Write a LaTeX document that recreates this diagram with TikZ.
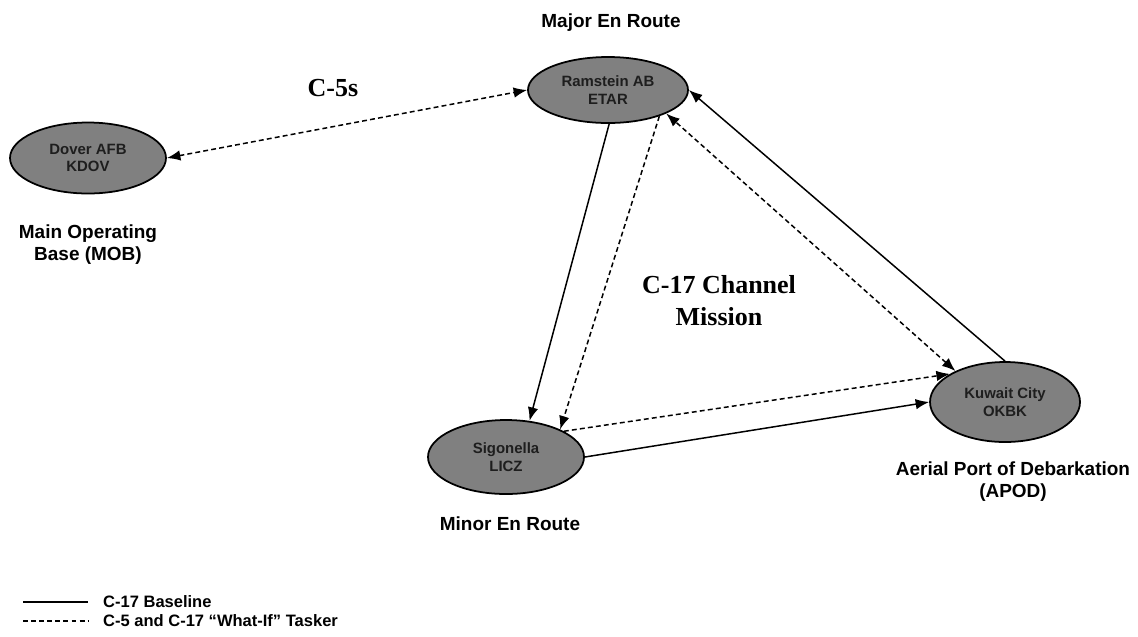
\documentclass[tikz,border=0pt]{standalone}
\usepackage{fontspec}
\setmainfont{Liberation Sans}
\newfontfamily\serifbold{Liberation Serif}
\usetikzlibrary{arrows.meta,positioning,shapes.geometric}
\definecolor{baseGray}{RGB}{128,128,128}
\definecolor{inkGray}{RGB}{30,30,30}

\begin{document}
\begin{tikzpicture}[
  >={Latex[length=2.7mm,width=2.1mm]},
  base/.style={line width=0.85pt},
  whatif/.style={line width=0.85pt,dash pattern=on 2.8pt off 1.8pt},
  port/.style={ellipse,draw=black,line width=1pt,fill=baseGray,minimum width=3.12cm,minimum height=1.42cm,inner sep=0pt,font=\fontsize{8.5}{10}\selectfont\bfseries,text=inkGray,align=center},
  lab/.style={font=\fontsize{10.8}{12.5}\selectfont\bfseries,align=center},
  big/.style={font=\serifbold\bfseries\fontsize{14.8}{18.2}\selectfont,align=center},
  leg/.style={font=\fontsize{9.4}{11}\selectfont\bfseries}
]
  \useasboundingbox (0,0) rectangle (22.76,-12.72);

  % Airfields
  \node[port] (dover) at (1.76,-3.16) {Dover AFB\\KDOV};
  \node[port,minimum width=3.2cm,minimum height=1.32cm] (ram) at (12.16,-1.80) {Ramstein AB\\ETAR};
  \node[port,minimum height=1.48cm] (sig) at (10.12,-9.14) {Sigonella\\LICZ};
  \node[port,minimum width=3.0cm,minimum height=1.6cm] (kuw) at (20.10,-8.04) {Kuwait City\\OKBK};

  % Roles
  \node[lab] (major) at (12.22,-0.46) {Major En Route};
  \node[lab] (mob) at (1.76,-4.90) {Main Operating\\Base (MOB)};
  \node[lab] (minor) at (10.20,-10.48) {Minor En Route};
  \node[lab] (apod) at (20.26,-9.64) {Aerial Port of Debarkation\\(APOD)};

  % Mission names
  \node[big] (c5) at (6.66,-1.76) {C-5s};
  \node[big] (c17) at (14.38,-6.02) {C-17 Channel\\Mission};

  % C-17 baseline
  \draw[base,->] (ram.-88) -- (sig.57);
  \draw[base,->] (sig.east) -- (kuw.west);
  \draw[base,->] (kuw.north) -- (ram.east);

  % What-if tasker
  \draw[whatif,<->] (dover.east) -- (ram.west);
  \draw[whatif,->] (ram.-27) -- (sig.27);
  \draw[whatif,->] (sig.24) -- (kuw.153);
  \draw[whatif,<->] (kuw.148) -- (ram.-22);

  % Legend
  \coordinate (lgA) at (0.46,-12.04);
  \coordinate (lgB) at (1.76,-12.04);
  \coordinate (lgC) at (0.46,-12.42);
  \coordinate (lgD) at (1.76,-12.42);
  \draw[base] (lgA) -- (lgB);
  \draw[whatif] (lgC) -- (lgD);
  \node[leg,right=0.18cm of lgB] (legbase) {C-17 Baseline};
  \node[leg,right=0.18cm of lgD] (legwhat) {C-5 and C-17 “What-If” Tasker};
\end{tikzpicture}
\end{document}
